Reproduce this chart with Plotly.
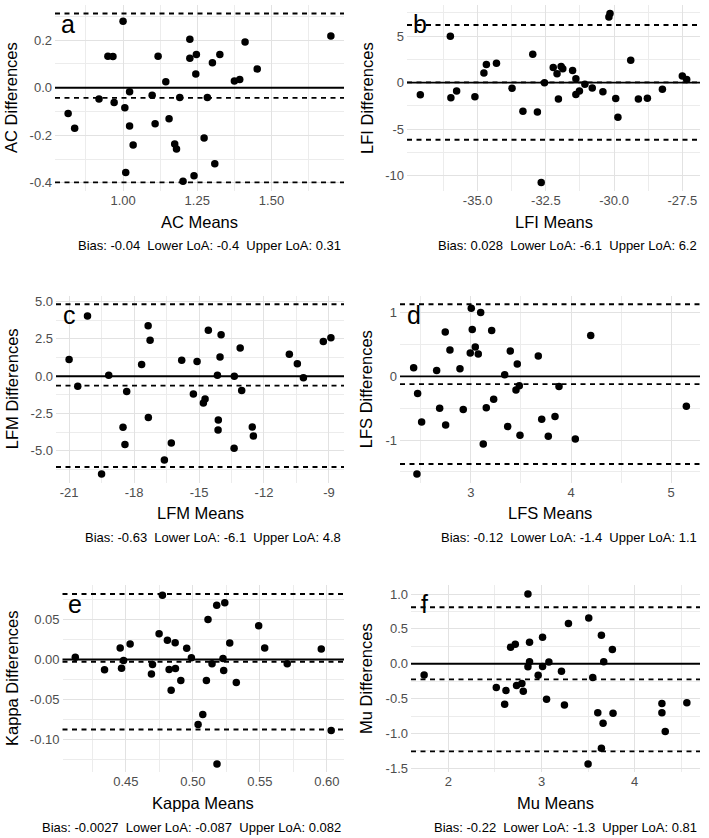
import plotly.graph_objects as go

# ---------------- data ----------------
panel_letters = ["a", "b", "c", "d", "e", "f"]
x_titles = ["AC Means", "LFI Means", "LFM Means", "LFS Means", "Kappa Means", "Mu Means"]
y_titles = ["AC Differences", "LFI Differences", "LFM Differences",
            "LFS Differences", "Kappa Differences", "Mu Differences"]

ac_means = [0.815, 0.837, 0.919, 0.949, 0.966, 0.970, 1.000, 1.006, 1.009, 1.022, 1.022, 1.034,
            1.098, 1.108, 1.118, 1.144, 1.155, 1.174, 1.180, 1.191, 1.202, 1.225, 1.225, 1.239,
            1.245, 1.247, 1.273, 1.284, 1.301, 1.309, 1.326, 1.375, 1.393, 1.411, 1.452, 1.700]
ac_diffs = [-0.108, -0.170, -0.048, 0.132, 0.131, -0.062, 0.279, -0.084, -0.356, -0.017, -0.161, -0.241,
            -0.032, -0.152, 0.132, 0.025, -0.130, -0.237, -0.258, -0.041, -0.393, 0.204, 0.124, -0.370,
            0.058, 0.139, -0.211, -0.041, 0.105, -0.320, 0.139, 0.028, 0.034, 0.192, 0.079, 0.217]

lfi_means = [-37.10, -36.00, -35.98, -35.77, -35.10, -34.77, -34.68, -34.31, -33.74, -33.34, -32.98, -32.81,
             -32.67, -32.55, -32.23, -32.09, -32.04, -31.94, -31.88, -31.52, -31.40, -31.40, -31.27, -31.07,
             -30.80, -30.41, -30.19, -30.15, -29.94, -29.86, -29.39, -29.11, -28.78, -28.23, -27.50, -27.34]
lfi_diffs = [-1.31, 5.00, -1.63, -0.89, -1.52, 1.03, 1.95, 2.09, -0.60, -3.09, 3.05, -3.16,
             -10.74, 0.00, 1.63, 0.96, -1.77, 1.74, 1.49, 1.31, 0.43, -1.28, -0.89, -0.18,
             -0.57, -0.99, 7.06, 7.45, -1.70, -3.72, 2.41, -1.77, -1.67, -0.71, 0.71, 0.35]

lfm_means = [-21.00, -20.60, -20.15, -19.50, -19.17, -18.51, -18.42, -18.34, -17.65, -17.35, -17.34, -17.26,
             -16.60, -16.28, -15.80, -15.26, -15.09, -14.80, -14.72, -14.57, -14.15, -14.12, -14.11, -14.03,
             -13.98, -13.38, -13.37, -13.10, -13.03, -12.54, -12.49, -10.83, -10.46, -10.18, -9.26, -8.91]
lfm_diffs = [1.11, -0.67, 4.04, -6.56, 0.07, -3.42, -4.58, -1.02, 0.78, 3.38, -2.76, 2.40,
             -5.62, -4.47, 1.07, -1.20, 0.98, -1.80, -1.53, 3.07, 0.07, -3.60, -2.93, 1.29,
             2.78, -4.82, 0.00, 1.89, -0.96, -3.40, -4.00, 1.47, 0.84, -0.11, 2.33, 2.58]

lfs_means = [2.427, 2.460, 2.467, 2.507, 2.657, 2.687, 2.743, 2.747, 2.790, 2.890, 2.923, 2.993,
             3.003, 3.013, 3.043, 3.073, 3.097, 3.123, 3.153, 3.207, 3.227, 3.337, 3.367, 3.393,
             3.450, 3.463, 3.483, 3.490, 3.673, 3.707, 3.773, 3.840, 3.880, 4.043, 4.197, 5.153]
lfs_diffs = [0.136, -1.535, -0.270, -0.715, 0.094, -0.500, 0.695, -0.762, 0.413, 0.120, -0.522, 0.366,
             1.070, 0.736, 0.460, 0.350, 1.003, -1.060, -0.491, 0.720, -0.360, 0.026, -0.789, 0.400,
             -0.214, 0.193, -0.146, -0.924, 0.319, -0.674, -0.940, -0.632, -0.157, -0.982, 0.642, -0.470]

kappa_means = [0.4123, 0.4341, 0.4458, 0.4468, 0.4483, 0.4532, 0.4691, 0.4699, 0.4748, 0.4773, 0.4810, 0.4823,
               0.4838, 0.4868, 0.4870, 0.4910, 0.4954, 0.4989, 0.5039, 0.5074, 0.5101, 0.5113, 0.5143, 0.5178,
               0.5180, 0.5225, 0.5230, 0.5238, 0.5275, 0.5324, 0.5491, 0.5536, 0.5704, 0.5958, 0.6032]
kappa_diffs = [0.0029, -0.0128, 0.0145, -0.0108, -0.0012, 0.0195, -0.0182, -0.0062, 0.0323, 0.0804, 0.0240, -0.0124,
               -0.0385, 0.0211, -0.0112, -0.0261, 0.0141, 0.0021, -0.0812, -0.0688, -0.0261, 0.0501, -0.0054, 0.0680,
               -0.1305, 0.0012, -0.0137, 0.0709, 0.0207, -0.0286, 0.0423, 0.0145, -0.0054, 0.0133, -0.0887]

mu_means = [1.739, 2.514, 2.604, 2.618, 2.668, 2.718, 2.732, 2.789, 2.804, 2.854, 2.854, 2.871,
            2.871, 2.964, 3.011, 3.011, 3.054, 3.079, 3.214, 3.246, 3.289, 3.507, 3.500, 3.550,
            3.604, 3.643, 3.643, 3.661, 3.668, 3.761, 3.768, 4.293, 4.293, 4.329, 4.561]
mu_diffs = [-0.161, -0.342, -0.583, -0.384, 0.237, 0.280, -0.313, -0.285, -0.394, 1.001, -0.043, 0.308,
            0.028, -0.166, 0.379, -0.038, -0.508, 0.024, -0.109, -0.593, 0.579, 0.655, -1.437, -0.199,
            -0.702, 0.408, -1.214, -0.854, 0.028, 0.204, -0.712, -0.569, -0.702, -0.972, -0.560]

# bias and limits of agreement (line positions) and their printed values
bias = [-0.043, 0.028, -0.63, -0.122, -0.0027, -0.224]
lower_loa = [-0.398, -6.142, -6.08, -1.377, -0.0874, -1.258]
upper_loa = [0.312, 6.198, 4.82, 1.133, 0.0820, 0.810]
bias_text = ["-0.04", "0.028", "-0.63", "-0.12", "-0.0027", "-0.22"]
lower_text = ["-0.4", "-6.1", "-6.1", "-1.4", "-0.087", "-1.3"]
upper_text = ["0.31", "6.2", "4.8", "1.1", "0.082", "0.81"]

# tick values and tick labels
x_tick_vals = [[1.00, 1.25, 1.50], [-35.0, -32.5, -30.0, -27.5], [-21, -18, -15, -12, -9],
               [3, 4, 5], [0.45, 0.50, 0.55, 0.60], [2, 3, 4]]
x_tick_text = [["1.00", "1.25", "1.50"], ["-35.0", "-32.5", "-30.0", "-27.5"],
               ["-21", "-18", "-15", "-12", "-9"], ["3", "4", "5"],
               ["0.45", "0.50", "0.55", "0.60"], ["2", "3", "4"]]
y_tick_vals = [[-0.4, -0.2, 0.0, 0.2], [-10, -5, 0, 5], [-5.0, -2.5, 0.0, 2.5, 5.0],
               [-1, 0, 1], [-0.10, -0.05, 0.00, 0.05], [-1.5, -1.0, -0.5, 0.0, 0.5, 1.0]]
y_tick_text = [["-0.4", "-0.2", "0.0", "0.2"], ["-10", "-5", "0", "5"],
               ["-5.0", "-2.5", "0.0", "2.5", "5.0"], ["-1", "0", "1"],
               ["-0.10", "-0.05", "0.00", "0.05"], ["-1.5", "-1.0", "-0.5", "0.0", "0.5", "1.0"]]

means = [ac_means, lfi_means, lfm_means, lfs_means, kappa_means, mu_means]
diffs = [ac_diffs, lfi_diffs, lfm_diffs, lfs_diffs, kappa_diffs, mu_diffs]

# ---------------- layout (pixel boxes of each panel) ----------------
W, H = 709, 838
boxes = [  # left, right, top, bottom  (pixels)
    (55, 344, 3, 190), (407, 700, 3, 190),
    (56, 344, 295.5, 483.5), (400, 700, 295.5, 483.5),
    (62.5, 344, 587, 775), (411, 700, 587, 775),
]
ytitle_x = [11, 367, 12, 366, 12, 366]
FONT = "Liberation Sans, Arial, Helvetica, sans-serif"
TICK_COLOR = "#4d4d4d"
MAJOR_GRID = "#e2e2e2"
MINOR_GRID = "#ececec"


def expand(vals):
    lo, hi = min(vals), max(vals)
    pad = 0.05 * (hi - lo)
    return [lo - pad, hi + pad]


def minor_vals(ticks, rng):
    step = ticks[1] - ticks[0]
    cands = [t + step / 2 for t in ticks] + [ticks[0] - step / 2]
    return [c for c in cands if rng[0] <= c <= rng[1]]


fig = go.Figure()
annotations = []
shapes = []
layout = {}

for i in range(6):
    n = i + 1
    xa = "x" if n == 1 else f"x{n}"
    ya = "y" if n == 1 else f"y{n}"
    xkey = "xaxis" if n == 1 else f"xaxis{n}"
    ykey = "yaxis" if n == 1 else f"yaxis{n}"
    left, right, top, bottom = boxes[i]

    xr = expand(means[i])
    yr = expand(diffs[i] + [lower_loa[i], upper_loa[i], bias[i], 0.0])

    fig.add_trace(go.Scatter(
        x=means[i], y=diffs[i], mode="markers", xaxis=xa, yaxis=ya,
        marker=dict(color="black", size=7.5, line=dict(width=0)),
        showlegend=False, hoverinfo="skip"))

    common = dict(showline=False, zeroline=False, ticks="", showgrid=True,
                  gridcolor=MAJOR_GRID, gridwidth=1.3,
                  tickfont=dict(family=FONT, size=13, color=TICK_COLOR),
                  tickmode="array", fixedrange=True)
    layout[xkey] = dict(common, anchor=ya, range=xr,
                        domain=[left / W, right / W],
                        tickvals=x_tick_vals[i], ticktext=x_tick_text[i],
                        minor=dict(tickvals=minor_vals(x_tick_vals[i], xr), showgrid=True,
                                   gridcolor=MINOR_GRID, gridwidth=1.0, ticks=""))
    layout[ykey] = dict(common, anchor=xa, range=yr,
                        domain=[1 - bottom / H, 1 - top / H],
                        tickvals=y_tick_vals[i], ticktext=y_tick_text[i],
                        ticklabelstandoff=2,
                        minor=dict(tickvals=minor_vals(y_tick_vals[i], yr), showgrid=True,
                                   gridcolor=MINOR_GRID, gridwidth=1.0, ticks=""))

    # zero line (solid) and bias / LoA lines (dashed)
    shapes.append(dict(type="line", xref=f"{xa} domain", yref=ya, x0=0, x1=1, y0=0, y1=0,
                       line=dict(color="black", width=1.9)))
    for v in (bias[i], lower_loa[i], upper_loa[i]):
        shapes.append(dict(type="line", xref=f"{xa} domain", yref=ya, x0=0, x1=1, y0=v, y1=v,
                           line=dict(color="black", width=1.9, dash="5px,4.5px")))

    # panel letter
    annotations.append(dict(text=panel_letters[i], xref=xa, yref=f"{ya} domain",
                            x=min(means[i]), y=1 - 19 / (bottom - top),
                            xanchor="center", yanchor="middle", showarrow=False,
                            font=dict(family=FONT, size=25, color="black")))
    # axis titles
    annotations.append(dict(text=x_titles[i], xref="paper", yref="paper",
                            x=(left + right) / 2 / W, y=1 - (bottom + 31) / H,
                            xanchor="center", yanchor="middle", showarrow=False,
                            font=dict(family=FONT, size=16.5, color="black")))
    annotations.append(dict(text=y_titles[i], xref="paper", yref="paper", textangle=-90,
                            x=ytitle_x[i] / W, y=1 - (top + bottom) / 2 / H,
                            xanchor="center", yanchor="middle", showarrow=False,
                            font=dict(family=FONT, size=16.5, color="black")))
    # caption
    cap = (f"Bias: {bias_text[i]}\u00a0 Lower LoA: {lower_text[i]}"
           f"\u00a0 Upper LoA: {upper_text[i]}")
    annotations.append(dict(text=cap, xref="paper", yref="paper",
                            x=(right - 1) / W, y=1 - (bottom + 55) / H,
                            xanchor="right", yanchor="middle", showarrow=False,
                            font=dict(family=FONT, size=13, color="black")))

fig.update_layout(
    width=W, height=H, margin=dict(l=0, r=0, t=0, b=0),
    paper_bgcolor="white", plot_bgcolor="white",
    showlegend=False, annotations=annotations, shapes=shapes, **layout)

fig.write_html("out.html")
